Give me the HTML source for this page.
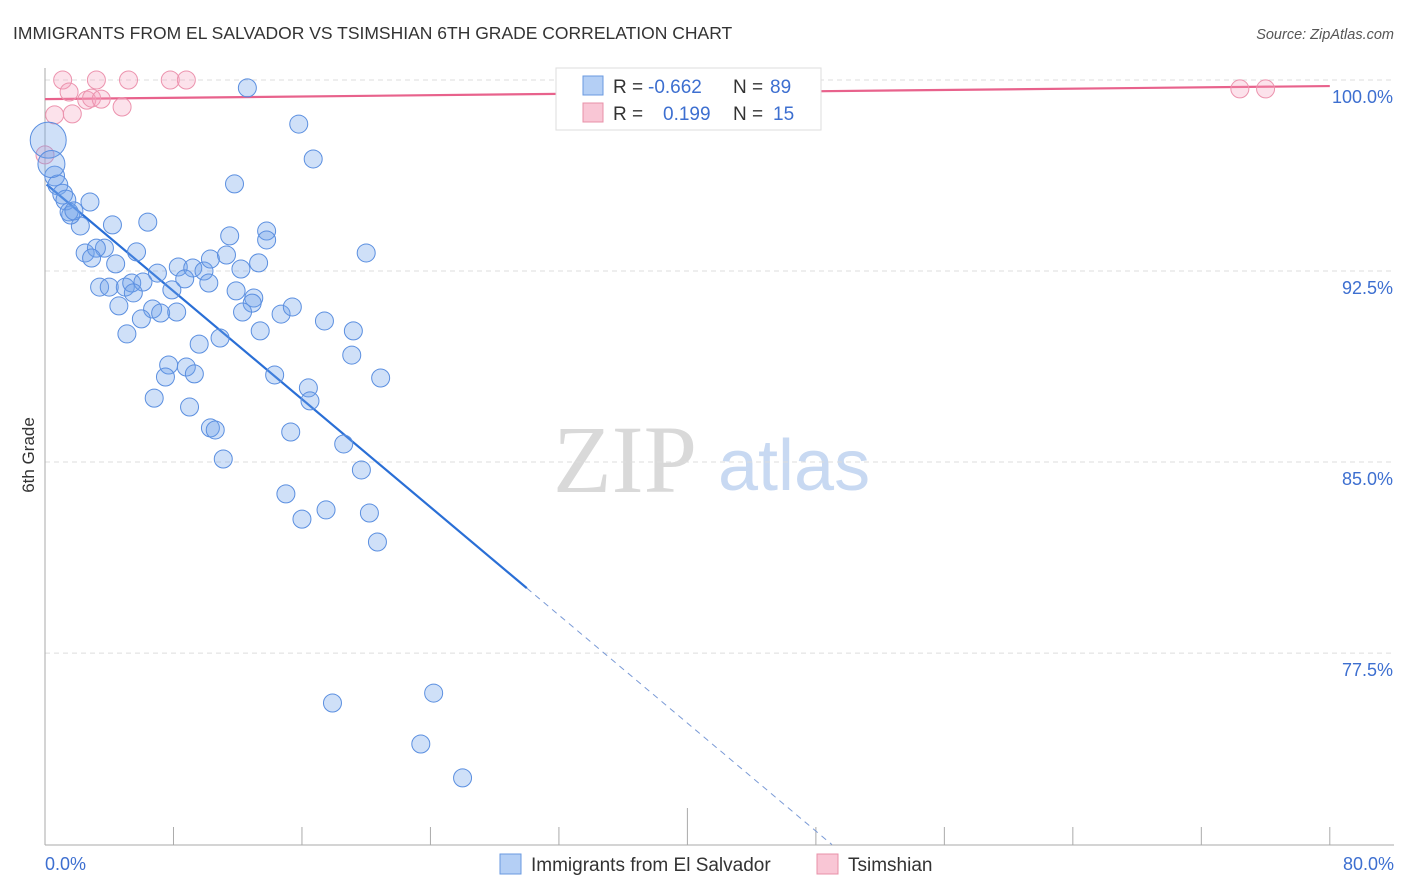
<!DOCTYPE html>
<html><head><meta charset="utf-8"><style>
body{margin:0;background:#fff;font-family:"Liberation Sans",sans-serif;}
svg{display:block}
</style></head><body>
<svg id="chart" width="1406" height="892" xmlns="http://www.w3.org/2000/svg" font-family="Liberation Sans, sans-serif">
<text x="13" y="39" font-size="17.5" fill="#333">IMMIGRANTS FROM EL SALVADOR VS TSIMSHIAN 6TH GRADE CORRELATION CHART</text>
<text x="1394" y="39" font-size="14.5" fill="#555" font-style="italic" text-anchor="end">Source: ZipAtlas.com</text>
<text transform="translate(34,455) rotate(-90)" font-size="17" fill="#333" text-anchor="middle">6th Grade</text>
<g>
<text x="553" y="492" font-size="96" fill="#d9d9d9" font-family="Liberation Serif, serif">ZIP</text>
<text x="718" y="490" font-size="72" fill="#c8d9f2">atlas</text>
</g>
<g id="grid"></g>
<g id="axes"></g>
<g id="lines"></g>
<g id="pts"></g>
<g>
<rect x="556" y="68" width="265" height="62" fill="#fff" stroke="#ddd"/>
<rect x="583" y="76" width="20" height="19" fill="#b4cff5" stroke="#6a9ae0"/>
<text x="613" y="93" font-size="19" fill="#333">R = </text>
<text x="648" y="93" font-size="19" fill="#3d6fd0">-0.662</text>
<text x="733" y="93" font-size="19" fill="#333">N = </text>
<text x="770" y="93" font-size="19" fill="#3d6fd0">89</text>
<rect x="583" y="103" width="20" height="19" fill="#f9c6d5" stroke="#e890a8"/>
<text x="613" y="120" font-size="19" fill="#333">R = </text>
<text x="663" y="120" font-size="19" fill="#3d6fd0">0.199</text>
<text x="733" y="120" font-size="19" fill="#333">N = </text>
<text x="773" y="120" font-size="19" fill="#3d6fd0">15</text>
</g>
<g>
<rect x="500" y="854" width="21" height="20" fill="#b4cff5" stroke="#6a9ae0"/>
<text x="531" y="871" font-size="19" fill="#333">Immigrants from El Salvador</text>
<rect x="817" y="854" width="21" height="20" fill="#f9c6d5" stroke="#e890a8"/>
<text x="848" y="871" font-size="19" fill="#333">Tsimshian</text>
</g>
<text x="45" y="870" font-size="18" fill="#3d6fd0">0.0%</text>
<text x="1394" y="870" font-size="18" fill="#3d6fd0" text-anchor="end">80.0%</text>
</svg>
<script>
const blueX=[12.6,15.8,16.7,11.8,2.8,6.4,4.2,2.2,1.6,11.5,13.8,13.8,20.0,2.5,5.7,3.7,3.2,2.9,4.4,7.0,8.3,9.2,9.9,10.3,11.3,12.2,13.3,8.7,3.4,4.0,5.0,5.4,6.1,5.5,7.9,10.2,11.9,13.0,12.9,4.6,6.7,7.2,8.2,6.0,12.3,14.7,15.4,17.4,5.1,13.4,19.2,9.6,10.9,19.1,7.7,8.8,9.3,7.5,14.3,20.9,16.4,16.5,6.8,9.0,10.3,10.6,15.3,18.6,11.1,19.7,15.0,17.5,16.0,20.2,20.7,24.2,17.9,23.4,26.0,0.6,0.8,1.1,1.3,1.5,1.8,0.2,0.4];
const blueY=[99.69,98.27,96.90,95.92,95.21,94.42,94.31,94.27,94.70,93.88,94.07,93.72,93.21,93.21,93.25,93.40,93.40,93.01,92.78,92.42,92.66,92.62,92.50,92.97,93.13,92.58,92.82,92.19,91.87,91.87,91.87,92.03,92.07,91.64,91.76,92.03,91.72,91.44,91.24,91.13,91.01,90.85,90.89,90.62,90.89,90.81,91.09,90.54,90.03,90.15,90.15,89.63,89.87,89.20,88.81,88.73,88.46,88.34,88.42,88.30,87.91,87.40,87.51,87.16,86.34,86.26,86.18,85.71,85.12,84.69,83.75,83.12,82.76,83.00,81.86,75.93,75.54,73.93,72.60,96.23,95.88,95.52,95.29,94.82,94.86,97.64,96.70];
const blueW=[1,1,1,1,1,1,1,1,1,1,1,1,1,1,1,1,1,1,1,1,1,1,1,1,1,1,1,1,1,1,1,1,1,1,1,1,1,1,1,1,1,1,1,1,1,1,1,1,1,1,1,1,1,1,1,1,1,1,1,1,1,1,1,1,1,1,1,1,1,1,1,1,1,1,1,1,1,1,1,1.1,1.1,1.1,1.1,1,1,2,1.5];
const pinkX=[1.1,3.2,5.2,7.8,8.8,1.5,2.6,2.9,3.5,4.8,0.6,1.7,0.0,74.4,76.0];
const pinkY=[100,100,100,100,100,99.53,99.21,99.29,99.25,98.94,98.63,98.67,97.06,99.65,99.65];
const yTicks=[100,92.5,85,77.5];
const yTickLabels=["100.0%","92.5%","85.0%","77.5%"];
const xTicks=[0,8,16,24,32,40,48,56,64,72,80];
const blueTrend=[95.95,-0.53]; // intercept, slope
const pinkTrend=[99.25,0.0064];
const NS="http://www.w3.org/2000/svg";
const X=v=>45+v*16.06, Y=v=>80+(100-v)*25.47;
function mk(p,t,a){const e=document.createElementNS(NS,t);for(const k in a)e.setAttribute(k,a[k]);p.appendChild(e);return e;}
const grid=document.getElementById('grid'),axes=document.getElementById('axes'),lines=document.getElementById('lines'),pts=document.getElementById('pts');
yTicks.forEach((v,i)=>{
 const g=mk(grid,'line',{x1:45,x2:1394,y1:Y(v),y2:Y(v),stroke:'#ddd','stroke-dasharray':'5,4'});
 
 
 const t=mk(grid,'text',{x:1393,y:Y(v)+23,'font-size':18,fill:'#3d6fd0','text-anchor':'end'});
 t.textContent=yTickLabels[i];
 
 
});
const ax=mk(axes,'line',{x1:45,x2:45,y1:68,y2:845,stroke:'#aaa'});


const bx=mk(axes,'line',{x1:45,x2:1394,y1:845,y2:845,stroke:'#aaa'});


xTicks.forEach(v=>{
 const l=mk(axes,'line',{x1:X(v),x2:X(v),y1:v===40?808:827,y2:845,stroke:'#aaa'});
 
 
});
const bl=mk(lines,'line',{x1:X(0.1),y1:Y(blueTrend[0]+blueTrend[1]*0.1),x2:X(30),y2:Y(blueTrend[0]+blueTrend[1]*30),stroke:'#2a6fd6','stroke-width':2.2});


const bd=mk(lines,'line',{x1:X(30),y1:Y(blueTrend[0]+blueTrend[1]*30),x2:X(49),y2:Y(blueTrend[0]+blueTrend[1]*49),stroke:'#7a9ad6','stroke-width':1,'stroke-dasharray':'6,5'});


const pl=mk(lines,'line',{x1:X(0),y1:Y(pinkTrend[0]),x2:X(80),y2:Y(pinkTrend[0]+pinkTrend[1]*80),stroke:'#e8628c','stroke-width':2.2});


pinkX.forEach((x,i)=>{
 const c=mk(pts,'circle',{cx:X(x),cy:Y(pinkY[i]),r:9,fill:'rgba(244,160,188,0.3)',stroke:'#ec93ae','stroke-width':1});
 
 
});
blueX.forEach((x,i)=>{
 const c=mk(pts,'circle',{cx:X(x),cy:Y(blueY[i]),r:9*blueW[i],fill:'rgba(110,160,235,0.33)',stroke:'#5b8fe0','stroke-width':1});
 
 
});
</script>
</body></html>
